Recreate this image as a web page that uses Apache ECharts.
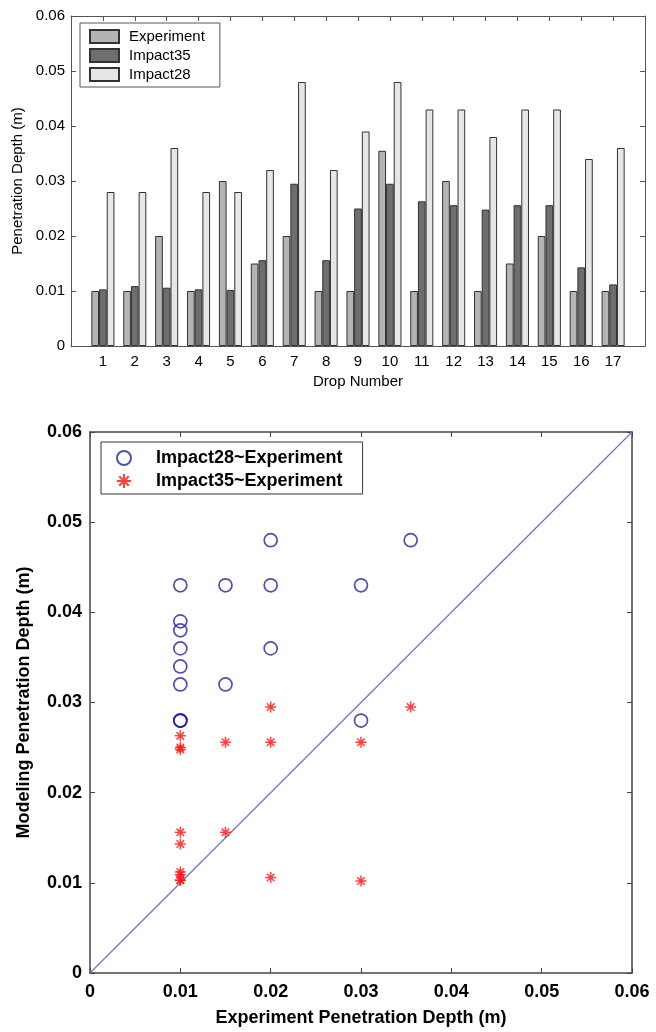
<!DOCTYPE html>
<html>
<head>
<meta charset="utf-8">
<script src="https://cdn.jsdelivr.net/npm/echarts@6/dist/echarts.min.js"></script>
<style>
html,body{margin:0;padding:0;background:#fff;}
#c{width:656px;height:1032px;}
</style>
</head>
<body>
<div id="c"></div>
<script>
// ---- data ----
var drops = [1,2,3,4,5,6,7,8,9,10,11,12,13,14,15,16,17];
var experiment = [0.010,0.010,0.020,0.010,0.030,0.015,0.020,0.010,0.010,0.0355,0.010,0.030,0.010,0.015,0.020,0.010,0.010];
var impact35 = [0.0103,0.0109,0.0106,0.0103,0.0102,0.0156,0.0295,0.0156,0.0250,0.0295,0.0263,0.0256,0.0248,0.0256,0.0256,0.0143,0.0112];
var impact28 = [0.028,0.028,0.036,0.028,0.028,0.032,0.048,0.032,0.039,0.048,0.043,0.043,0.038,0.043,0.043,0.034,0.036];
var barNames = ['Experiment','Impact35','Impact28'];
var scatterNames = ['Impact28~Experiment','Impact35~Experiment'];
var diagonal = [[0,0],[0.06,0.06]];

var FONT = 'Liberation Sans';
function pairs(xs, ys){ return xs.map(function(x,i){ return [x, ys[i]]; }); }

var lineTop = {show:true, onZero:false, lineStyle:{color:'#555',width:1}};
var lineBot = {show:true, onZero:false, lineStyle:{color:'#444',width:1.5}};
var tickTop = {show:true, inside:true, length:5, lineStyle:{color:'#555'}};
var tickBot = {show:true, inside:true, length:5, lineStyle:{color:'#444'}};

var chart = echarts.init(document.getElementById('c'), null, {renderer:'canvas'});
chart.setOption({
  animation:false,
  backgroundColor:'#fff',
  textStyle:{fontFamily:FONT},
  grid:[
    {left:71, top:16, width:574, height:330},
    {left:90, top:432, width:542, height:542}
  ],
  legend:[
    {
      data:barNames, orient:'vertical', left:80, top:23,
      itemWidth:29, itemHeight:13, itemGap:4,
      padding:[6,15,5,9],
      borderColor:'#555', borderWidth:1, backgroundColor:'#fff',
      icon:'rect',
      textStyle:{fontFamily:FONT, fontSize:15, color:'#000', padding:[0,0,0,5]}
    },
    {
      data:scatterNames, orient:'vertical', left:101, top:442,
      itemWidth:30, itemHeight:14, itemGap:5,
      padding:[7,20,4,15],
      borderColor:'#333', borderWidth:1, backgroundColor:'#fff',
      textStyle:{fontFamily:FONT, fontSize:18, fontWeight:'bold', color:'#000', padding:[0,0,0,12]}
    }
  ],
  xAxis:[
    {gridIndex:0, type:'value', min:0, max:18, interval:1, position:'bottom',
     axisLine:lineTop, axisTick:tickTop, splitLine:{show:false},
     axisLabel:{fontFamily:FONT, fontSize:15, color:'#000', margin:8, showMinLabel:false, showMaxLabel:false},
     name:'Drop Number', nameLocation:'middle', nameGap:28,
     nameTextStyle:{fontFamily:FONT, fontSize:15, color:'#000'}},
    {gridIndex:0, type:'value', min:0, max:18, interval:1, position:'top',
     axisLine:lineTop, axisTick:tickTop, splitLine:{show:false}, axisLabel:{show:false}},
    {gridIndex:1, type:'value', min:0, max:0.06, interval:0.01, position:'bottom',
     axisLine:lineBot, axisTick:tickBot, splitLine:{show:false},
     axisLabel:{fontFamily:FONT, fontSize:18, fontWeight:'bold', color:'#000', margin:10},
     name:'Experiment Penetration Depth (m)', nameLocation:'middle', nameGap:36,
     nameTextStyle:{fontFamily:FONT, fontSize:18, fontWeight:'bold', color:'#000'}},
    {gridIndex:1, type:'value', min:0, max:0.06, interval:0.01, position:'top',
     axisLine:lineBot, axisTick:tickBot, splitLine:{show:false}, axisLabel:{show:false}}
  ],
  yAxis:[
    {gridIndex:0, type:'value', min:0, max:0.06, interval:0.01, position:'left',
     axisLine:lineTop, axisTick:tickTop, splitLine:{show:false},
     axisLabel:{fontFamily:FONT, fontSize:15, color:'#000', margin:6},
     name:'Penetration Depth (m)', nameLocation:'middle', nameGap:46, nameRotate:90,
     nameTextStyle:{fontFamily:FONT, fontSize:15, color:'#000'}},
    {gridIndex:0, type:'value', min:0, max:0.06, interval:0.01, position:'right',
     axisLine:lineTop, axisTick:tickTop, splitLine:{show:false}, axisLabel:{show:false}},
    {gridIndex:1, type:'value', min:0, max:0.06, interval:0.01, position:'left',
     axisLine:lineBot, axisTick:tickBot, splitLine:{show:false},
     axisLabel:{fontFamily:FONT, fontSize:18, fontWeight:'bold', color:'#000', margin:8},
     name:'Modeling Penetration Depth (m)', nameLocation:'middle', nameGap:57, nameRotate:90,
     nameTextStyle:{fontFamily:FONT, fontSize:18, fontWeight:'bold', color:'#000'}},
    {gridIndex:1, type:'value', min:0, max:0.06, interval:0.01, position:'right',
     axisLine:lineBot, axisTick:tickBot, splitLine:{show:false}, axisLabel:{show:false}}
  ],
  series:[
    {name:barNames[0], type:'bar', xAxisIndex:0, yAxisIndex:0, data:pairs(drops, experiment),
     barWidth:7.7, barGap:'0%', itemStyle:{color:'#b4b4b4', borderColor:'#333', borderWidth:1}},
    {name:barNames[1], type:'bar', xAxisIndex:0, yAxisIndex:0, data:pairs(drops, impact35),
     barWidth:7.7, barGap:'0%', itemStyle:{color:'#6e6e6e', borderColor:'#333', borderWidth:1}},
    {name:barNames[2], type:'bar', xAxisIndex:0, yAxisIndex:0, data:pairs(drops, impact28),
     barWidth:7.7, barGap:'0%', itemStyle:{color:'#e6e6e6', borderColor:'#333', borderWidth:1}},
    {name:'diag', type:'line', xAxisIndex:2, yAxisIndex:2, data:diagonal, showSymbol:false,
     silent:true, lineStyle:{color:'#7070cc', width:1.2}, z:1},
    {name:scatterNames[0], type:'scatter', xAxisIndex:2, yAxisIndex:2, data:pairs(experiment, impact28),
     symbol:'circle', symbolSize:13,
     itemStyle:{color:'rgba(255,255,255,0)', borderColor:'#24249c', borderWidth:1.7}},
    {name:scatterNames[1], type:'scatter', xAxisIndex:2, yAxisIndex:2, data:pairs(experiment, impact35),
     symbol:'path://M0,5L10,5M5,0L5,10M1.6,1.6L8.4,8.4M1.6,8.4L8.4,1.6', symbolSize:11,
     itemStyle:{color:'#ff0000', borderColor:'#ff1010', borderWidth:1.5}}
  ]
});
</script>
</body>
</html>
